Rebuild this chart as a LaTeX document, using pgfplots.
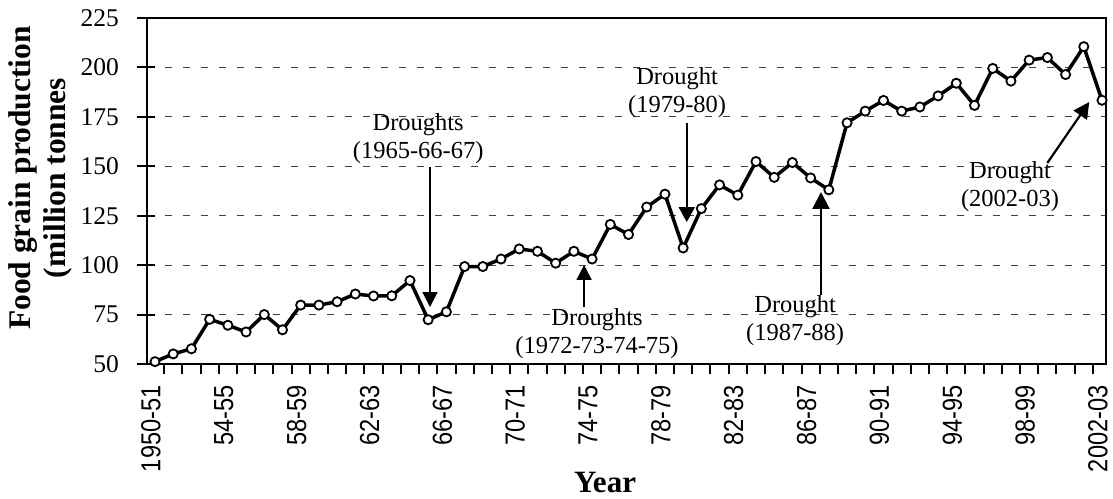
\documentclass[border=0pt]{standalone}
\usepackage{fontspec}
\setmainfont{Liberation Serif}
\newfontfamily\tickfont[FakeStretch=0.86]{Liberation Sans}
\usepackage{pgfplots}
\usepackage{pgfplotstable}
\pgfplotsset{compat=1.18}
\usetikzlibrary{arrows.meta}
\newcommand\annfont{\fontsize{24.5}{28}\selectfont}
\pgfplotstableread{
x y
0 51.2
1 55.1
2 57.7
3 72.6
4 69.6
5 66.2
6 75.0
7 67.3
8 79.8
9 79.8
10 81.5
11 85.4
12 84.4
13 84.5
14 92.2
15 72.4
16 76.4
17 99.3
18 99.3
19 103.1
20 108.2
21 107.0
22 101.0
23 107.0
24 103.1
25 120.6
26 115.5
27 129.4
28 135.9
29 108.7
30 128.6
31 140.6
32 135.4
33 152.4
34 144.4
35 151.9
36 144.1
37 138.1
38 172.0
39 177.9
40 183.3
41 177.9
42 180.0
43 185.6
44 192.0
45 180.8
46 199.5
47 193.1
48 203.7
49 205.0
50 196.4
51 210.5
52 183.4
}\datatable
\begin{document}
\begin{tikzpicture}
\path[use as bounding box] (-147pt,-134pt) rectangle (966pt,364pt);
\begin{axis}[
  at={(0pt,0pt)}, anchor=south west,
  scale only axis, width=959pt, height=346pt,
  xmin=-0.44, xmax=52.22, ymin=50, ymax=225,
  axis line style={line width=2.2pt},
  ytick={50,75,...,225},
  ytick pos=left, xtick pos=bottom,
  ymajorgrids,
  grid style={black!75, line width=1.1pt, dash pattern=on 7pt off 11pt},
  xtick={0,4,...,52},
  xticklabels={1950-51,54-55,58-59,62-63,66-67,70-71,74-75,78-79,82-83,86-87,90-91,94-95,98-99,2002-03},
  minor xtick={0.5,1.5,...,51.5},
  tick align=outside,
  major tick length=18pt,
  minor tick length=10pt,
  tick style={line width=2pt, black},
  y tick style={xshift=8pt},
  major x tick style={draw=none},
  xticklabel style={font=\tickfont\fontsize{27.5}{30}\selectfont, xshift=-4pt, rotate=90, anchor=east, inner xsep=3pt, inner ysep=0pt},
  yticklabel style={font=\fontsize{25.5}{28}\selectfont, anchor=east, inner xsep=10pt},
  /pgf/number format/assume math mode=true,
  clip=false,
]
\addplot[black, line width=3.5pt, mark=*, mark size=4.6pt,
  mark options={fill=white, draw=black, line width=1.8pt}] table[x=x,y=y] {\datatable};

\node[font=\annfont, align=center] at (axis cs:14.45,164.0) {Droughts\\(1965-66-67)};
\draw[line width=1.8pt, -{Triangle[width=15pt,length=15pt]}] (axis cs:15.1,149.6) -- (axis cs:15.1,78.8);

\node[font=\annfont, align=center] at (axis cs:28.67,187.3) {Drought\\(1979-80)};
\draw[line width=1.8pt, -{Triangle[width=16pt,length=15pt]}] (axis cs:29.2,171.9) -- (axis cs:29.2,121.8);

\node[font=\annfont, align=center] at (axis cs:24.27,65.2) {Droughts\\(1972-73-74-75)};
\draw[line width=1.8pt, -{Triangle[width=15pt,length=15pt]}] (axis cs:23.56,78.8) -- (axis cs:23.56,100.1);

\node[font=\annfont, align=center] at (axis cs:35.15,72.0) {Drought\\(1987-88)};
\draw[line width=2.4pt, -{Triangle[width=17pt,length=17pt]}] (axis cs:36.57,84.9) -- (axis cs:36.57,137.0);

\node[font=\annfont, align=center] at (axis cs:46.95,139.8) {Drought\\(2002-03)};
\draw[line width=2.2pt, -{Triangle[width=16pt,length=16pt]}] (axis cs:49.0,151.7) -- (axis cs:51.3,182.5);
\end{axis}
\node[rotate=90, align=center, font=\bfseries\fontsize{31.5}{35}\selectfont] at (-107pt,186pt) {Food grain production\\(million tonnes};
\node[font=\bfseries\fontsize{31}{34}\selectfont] at (458pt,-118pt) {Year};
\end{tikzpicture}
\end{document}
